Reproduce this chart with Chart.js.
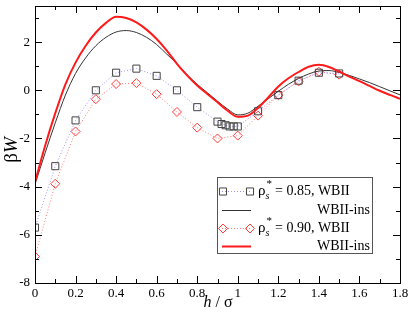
<!DOCTYPE html>
<html>
<head>
<meta charset="utf-8">
<script src="https://cdn.jsdelivr.net/npm/chart.js@4.4.1/dist/chart.umd.min.js"></script>
<style>
  html, body { margin: 0; padding: 0; background: #fff; overflow: hidden; }
</style>
</head>
<body>
<canvas id="myChart" width="409" height="312"></canvas>
<script>
// simulation points, rho_s* = 0.85 (squares)
const h085 = [0, 0.1, 0.2, 0.3, 0.4, 0.5, 0.6, 0.7, 0.8, 0.9, 0.92, 0.94, 0.96, 0.98, 1.0, 1.1, 1.2, 1.3, 1.4, 1.5]
const w085 = [-5.7, -3.15, -1.25, 0.0, 0.73, 0.9, 0.6, 0.0, -0.7, -1.3, -1.4, -1.45, -1.5, -1.5, -1.5, -0.87, -0.2, 0.4, 0.73, 0.7]

// simulation points, rho_s* = 0.90 (diamonds)
const h090 = [0, 0.1, 0.2, 0.3, 0.4, 0.5, 0.6, 0.7, 0.8, 0.9, 1.0, 1.1, 1.2, 1.3, 1.4, 1.5]
const w090 = [-6.9, -3.88, -1.71, -0.37, 0.26, 0.3, -0.16, -0.9, -1.55, -2.0, -1.88, -1.05, -0.2, 0.37, 0.77, 0.65]

// WBII-ins curves
const hCurve = [0, 0.05, 0.1, 0.15, 0.2, 0.25, 0.3, 0.35, 0.4, 0.45, 0.5, 0.55, 0.6, 0.65, 0.7, 0.75, 0.8, 0.85, 0.9, 0.95, 1.0, 1.05, 1.1, 1.15, 1.2, 1.25, 1.3, 1.35, 1.4, 1.45, 1.5, 1.55, 1.6, 1.65, 1.7, 1.75, 1.8]
const ins085 = [-3.9, -2.6, -1.35, -0.2, 0.7, 1.35, 1.85, 2.2, 2.42, 2.48, 2.4, 2.2, 1.9, 1.5, 1.1, 0.65, 0.25, -0.1, -0.45, -0.78, -1.02, -0.95, -0.66, -0.35, -0.04, 0.25, 0.49, 0.68, 0.8, 0.82, 0.74, 0.62, 0.47, 0.32, 0.15, -0.02, -0.19]
const ins090 = [-3.8, -2.3, -0.95, 0.25, 1.15, 1.85, 2.4, 2.8, 3.05, 3.0, 2.82, 2.52, 2.13, 1.65, 1.1, 0.62, 0.2, -0.15, -0.5, -0.85, -1.1, -1.05, -0.73, -0.3, 0.16, 0.5, 0.76, 0.98, 1.06, 0.97, 0.78, 0.57, 0.38, 0.18, -0.02, -0.19, -0.35]

const xMin = 0, xMax = 1.8
const yMin = -8, yMax = 3.5

const pts = (xs, ys) => xs.map((v, i) => ({x: v, y: ys[i]}))

const serif = '"Liberation Serif", "DejaVu Serif", serif'

// ticks, frame, axis titles and legend box
const decor = {
  id: 'decor',
  afterDraw(chart) {
    const ctx = chart.ctx
    const a = chart.chartArea
    const x = chart.scales.x, y = chart.scales.y
    ctx.save()
    ctx.strokeStyle = '#000'
    ctx.lineWidth = 1
    ctx.strokeRect(Math.round(a.left) + 0.5, Math.round(a.top) + 0.5, Math.round(a.right - a.left), Math.round(a.bottom - a.top))
    ctx.beginPath()
    for (let i = 0; i <= 18; i++) {
      const px = Math.round(x.getPixelForValue(i / 10)) + 0.5
      const len = i % 2 ? 4 : 7
      ctx.moveTo(px, a.bottom); ctx.lineTo(px, a.bottom - len)
      ctx.moveTo(px, a.top); ctx.lineTo(px, a.top + len)
    }
    for (let v = -8; v <= 3; v++) {
      const py = Math.round(y.getPixelForValue(v)) + 0.5
      const len = v % 2 ? 4 : 7
      ctx.moveTo(a.left, py); ctx.lineTo(a.left + len, py)
      ctx.moveTo(a.right, py); ctx.lineTo(a.right - len, py)
    }
    ctx.stroke()

    // axis titles
    ctx.fillStyle = '#000'
    ctx.textBaseline = 'middle'
    ctx.save()
    ctx.translate(12, 150)
    ctx.rotate(-Math.PI / 2)
    ctx.font = '19px ' + serif
    const bw = ctx.measureText('β').width
    ctx.font = 'italic 19px ' + serif
    const ww = ctx.measureText('W').width
    let sx = -(bw + ww) / 2
    ctx.textAlign = 'left'
    ctx.font = '19px ' + serif
    ctx.fillText('β', sx, 0)
    ctx.font = 'italic 19px ' + serif
    ctx.fillText('W', sx + bw, 0)
    ctx.restore()

    ctx.textAlign = 'left'
    ctx.font = 'italic 16px ' + serif
    const hw = ctx.measureText('h').width
    ctx.font = '16px ' + serif
    const rest = ' / σ'
    const rw = ctx.measureText(rest).width
    let tx = 218 - (hw + rw) / 2
    ctx.font = 'italic 16px ' + serif
    ctx.fillText('h', tx, 303)
    ctx.font = '16px ' + serif
    ctx.fillText(rest, tx + hw, 303)

    // legend
    const L = {x: 217, y: 177, w: 155, h: 76}
    ctx.fillStyle = '#fff'
    ctx.fillRect(L.x, L.y, L.w, L.h)
    ctx.strokeStyle = '#555'
    ctx.strokeRect(L.x + 0.5, L.y + 0.5, L.w, L.h)
    const rows = [191, 210, 228, 246]
    const x1 = 222, x2 = 251
    const ds = chart.data.datasets
    const drawLine = (d, yy) => {
      ctx.save()
      ctx.strokeStyle = d.borderColor
      ctx.lineWidth = d.borderWidth
      ctx.setLineDash(d.borderDash || [])
      ctx.beginPath()
      ctx.moveTo(x1, yy + 0.5); ctx.lineTo(x2, yy + 0.5)
      ctx.stroke()
      ctx.restore()
    }
    const drawMark = (d, yy) => {
      const opt = {pointStyle: d.pointStyle, radius: d.pointRadius, rotation: 0, borderWidth: d.pointBorderWidth}
      ctx.save()
      ctx.strokeStyle = d.pointBorderColor
      ctx.fillStyle = 'rgba(0,0,0,0)'
      ctx.lineWidth = d.pointBorderWidth
      Chart.helpers.drawPoint(ctx, opt, x1 + 1, yy + 0.5)
      Chart.helpers.drawPoint(ctx, opt, x2 - 1, yy + 0.5)
      ctx.restore()
    }
    const rhoText = (label, yy) => {
      ctx.fillStyle = '#000'
      ctx.textAlign = 'left'
      ctx.font = '15px ' + serif
      ctx.fillText('ρ', 258, yy)
      const w1 = ctx.measureText('ρ').width
      ctx.font = 'italic 10px ' + serif
      ctx.fillText('s', 258 + w1, yy + 5)
      ctx.font = '11px ' + serif
      ctx.fillText('*', 258 + w1 + 1, yy - 7)
      ctx.font = '14px ' + serif
      ctx.fillText(label, 258 + w1 + 6, yy)
    }
    drawLine(ds[0], rows[0]); drawMark(ds[0], rows[0]); rhoText(' = 0.85, WBII', rows[0])
    drawLine(ds[1], rows[1])
    drawLine(ds[2], rows[2]); drawMark(ds[2], rows[2]); rhoText(' = 0.90, WBII', rows[2])
    drawLine(ds[3], rows[3])
    ctx.fillStyle = '#000'
    ctx.font = '14px ' + serif
    ctx.fillText('WBII-ins', 317, rows[1])
    ctx.fillText('WBII-ins', 317, rows[3])
    ctx.restore()
  }
}

var chartArea = document.getElementById('myChart').getContext('2d')
var myChart = new Chart(chartArea, {
  type: 'line',
  data: {
    datasets: [{
      label: 'rho 0.85, WBII',
      data: pts(h085, w085),
      borderColor: '#a88cff',
      borderWidth: 1,
      borderDash: [1, 2],
      pointStyle: 'rect',
      pointRadius: 5,
      pointBorderColor: '#444',
      pointBorderWidth: 1,
      pointBackgroundColor: 'rgba(0,0,0,0)',
      order: 3
    }, {
      label: 'WBII-ins 0.85',
      data: pts(hCurve, ins085),
      borderColor: '#333',
      borderWidth: 1,
      pointRadius: 0,
      cubicInterpolationMode: 'monotone',
      order: 2
    }, {
      label: 'rho 0.90, WBII',
      data: pts(h090, w090),
      borderColor: '#ff7a7a',
      borderWidth: 1,
      borderDash: [1, 2],
      pointStyle: 'rectRot',
      pointRadius: 4.5,
      pointBorderColor: '#ff3b3b',
      pointBorderWidth: 1,
      pointBackgroundColor: 'rgba(0,0,0,0)',
      order: 4
    }, {
      label: 'WBII-ins 0.90',
      data: pts(hCurve, ins090),
      borderColor: '#ff1a1a',
      borderWidth: 2,
      pointRadius: 0,
      cubicInterpolationMode: 'monotone',
      order: 1
    }]
  },
  options: {
    responsive: false,
    animation: false,
    maintainAspectRatio: false,
    layout: { padding: { top: 0.5, right: 9, left: 0, bottom: 0 } },
    plugins: {
      legend: { display: false },
      tooltip: { enabled: false }
    },
    scales: {
      x: {
        type: 'linear',
        min: xMin,
        max: xMax,
        grid: { display: false, drawTicks: false },
        border: { display: false },
        afterFit: s => { s.height = 29; s.paddingLeft = 0; s.paddingRight = 0 },
        ticks: {
          stepSize: 0.2,
          padding: 3,
          maxRotation: 0,
          autoSkip: false,
          color: '#000',
          font: { family: serif, size: 13 },
          callback: v => String(+v.toFixed(1))
        }
      },
      y: {
        type: 'linear',
        min: yMin,
        max: yMax,
        grid: { display: false, drawTicks: false },
        border: { display: false },
        afterFit: s => { s.width = 35; s.paddingTop = 0; s.paddingBottom = 0 },
        ticks: {
          stepSize: 2,
          includeBounds: false,
          padding: 5,
          color: '#000',
          font: { family: serif, size: 13 },
          callback: v => String(v)
        }
      }
    }
  },
  plugins: [decor]
})
</script>
</body>
</html>
